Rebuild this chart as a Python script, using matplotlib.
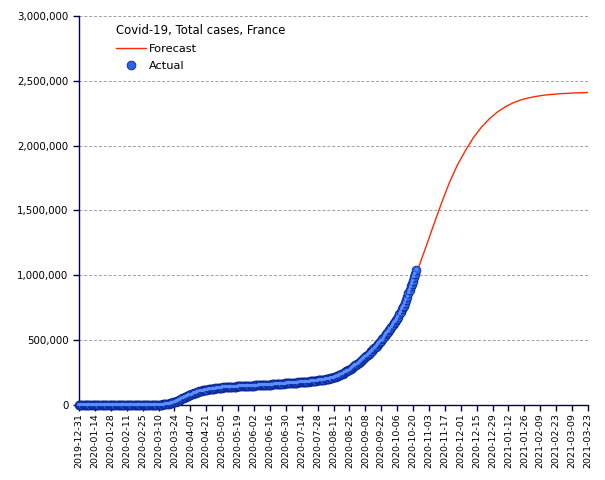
import matplotlib
matplotlib.use("Agg")
import matplotlib.pyplot as plt
import matplotlib.dates as mdates
import matplotlib.transforms as mtransforms
import pandas as pd
from matplotlib.ticker import FuncFormatter, MultipleLocator

title = "Covid-19, Total cases, France"
start_date = "2019-12-31"
end_date = "2021-03-23"

# Daily actual total cases from 2019-12-31 to 2020-10-24
actual_cases = [
    0, 0, 0, 0, 0, 0, 0, 0, 0, 0, 0, 0, 0, 0,
    0, 0, 0, 0, 0, 0, 0, 0, 0, 0, 3, 3, 3, 3,
    4, 5, 6, 6, 6, 6, 6, 6, 6, 11, 11, 11, 11, 11,
    12, 12, 12, 12, 12, 12, 12, 12, 12, 12, 12, 12, 12, 12,
    14, 18, 38, 57, 100, 130, 191, 204, 285, 377, 653, 949, 1126, 1209,
    1784, 2281, 2876, 3661, 4469, 4499, 6633, 7652, 9043, 10871, 12612, 14282, 16018, 19856,
    22025, 24920, 28786, 32542, 37145, 40174, 44550, 51477, 56261, 59105, 64338, 68605, 70478, 74390,
    78167, 82048, 86334, 90676, 93790, 95403, 98076, 103573, 106206, 108847, 109252, 111821, 112606, 114657,
    117324, 119151, 120804, 121407, 123279, 124114, 124575, 126835, 128339, 129581, 130185, 130979, 131287, 131863,
    132967, 137150, 137779, 138161, 138421, 138854, 139063, 139519, 140227, 140734, 141356, 141919, 142411, 142903,
    143427, 143845, 144163, 144806, 145279, 145555, 145746, 146122, 146683, 147091, 147577, 148084, 148524, 149071,
    149668, 150322, 150830, 151325, 151753, 152444, 153055, 153634, 154188, 154591, 155136, 155561, 156156, 156813,
    157220, 157716, 158174, 158641, 159452, 160093, 160750, 161267, 161348, 162220, 162936, 164260, 164801, 165719,
    166378, 166960, 167299, 168335, 169473, 170094, 170752, 171402, 172377, 172377, 173304, 173838, 174674, 175027,
    175478, 176754, 177338, 178336, 179398, 180528, 180528, 182219, 183079, 184069, 185196, 186573, 187919, 187919,
    189335, 190180, 191295, 192334, 193620, 195633, 195633, 197881, 199476, 201390, 203296, 205435, 208015, 208015,
    212211, 214943, 217801, 221267, 225043, 228530, 230530, 236400, 241002, 246899, 252408, 258200, 263154, 266154,
    272945, 278077, 284827, 291943, 298083, 305787, 310787, 317392, 323410, 330089, 337706, 345777, 354433, 360433,
    369101, 376981, 385033, 394099, 403829, 413098, 420098, 429104, 438000, 448000, 458000, 468000, 478000, 486000,
    494000, 506000, 519000, 532000, 545000, 556000, 564000, 575000, 587000, 601000, 615000, 630000, 642000, 652000,
    665000, 682000, 700000, 718000, 738000, 754000, 766000, 786000, 810000, 836000, 862000, 890000, 914000, 932000,
    958000, 988000, 1012000, 1040000,
]

# Forecast of total cases (after the last actual point)
forecast_dates = [
    "2020-10-24", "2020-10-31", "2020-11-07", "2020-11-14", "2020-11-21", "2020-11-28",
    "2020-12-05", "2020-12-12", "2020-12-19", "2020-12-26", "2021-01-02", "2021-01-09",
    "2021-01-16", "2021-01-23", "2021-01-30", "2021-02-06", "2021-02-13", "2021-02-20",
    "2021-02-27", "2021-03-06", "2021-03-13", "2021-03-20", "2021-03-23",
]
forecast_cases = [
    1040000, 1210000, 1385000, 1555000, 1715000, 1850000,
    1960000, 2060000, 2140000, 2205000, 2258000, 2298000,
    2330000, 2353000, 2369000, 2381000, 2390000, 2396000,
    2401000, 2404000, 2407000, 2409000, 2410000,
]

actual_dates = pd.date_range(start_date, periods=len(actual_cases), freq="D")
fc_dates = pd.to_datetime(forecast_dates)
tick_dates = pd.date_range(start_date, end_date, freq="14D")

navy = "#000050"
fig = plt.figure(figsize=(6.05, 4.80), dpi=100)
ax = fig.add_axes([0.1306, 0.1563, 0.8413, 0.8104])

ax.plot(fc_dates, forecast_cases, color="#ff2a00", lw=1.0, label="Forecast", zorder=2)
ax.plot(actual_dates, actual_cases, ls="none", marker="o", markersize=6.3,
        markerfacecolor="#2a64ea", markeredgecolor="#0a248e", markeredgewidth=0.6,
        label="Actual", zorder=3, clip_on=False)
hl = mtransforms.offset_copy(ax.transData, fig=fig, x=-0.6, y=0.6, units="points")
ax.plot(actual_dates, actual_cases, ls="none", marker="o", markersize=2.3,
        markerfacecolor="#5d8eff", markeredgecolor="none", transform=hl, zorder=4,
        clip_on=False)

ax.set_xlim(pd.Timestamp(start_date), pd.Timestamp(end_date))
ax.set_ylim(0, 3000000)
ax.yaxis.set_major_locator(MultipleLocator(500000))
ax.yaxis.set_major_formatter(FuncFormatter(lambda v, p: f"{int(v):,}"))
ax.set_xticks(tick_dates)
ax.xaxis.set_major_formatter(mdates.DateFormatter("%Y-%m-%d"))
plt.setp(ax.get_xticklabels(), rotation=90, fontsize=6.8, color="black")
plt.setp(ax.get_yticklabels(), fontsize=7.4, color="black")

for s in ["top", "right"]:
    ax.spines[s].set_visible(False)
for s in ["left", "bottom"]:
    ax.spines[s].set_color(navy)
    ax.spines[s].set_linewidth(1.0)
ax.tick_params(axis="x", colors=navy, length=4, width=1, direction="out",
               labelcolor="black", pad=2)
ax.tick_params(axis="y", colors=navy, length=4.5, width=1, direction="out",
               labelcolor="black", pad=3)
ax.grid(axis="y", color="#a0a0a0", ls=(0, (3, 2)), lw=0.7)
ax.set_axisbelow(True)

leg = ax.legend(title=title, loc="upper left", bbox_to_anchor=(0.06, 0.998),
                frameon=False, fontsize=8.2, title_fontsize=8.4,
                handlelength=2.6, handletextpad=0.25, borderaxespad=0.2,
                labelspacing=0.65)
leg._legend_box.align = "left"
leg._legend_box.sep = 5

fig.savefig("out.png", dpi=100)
